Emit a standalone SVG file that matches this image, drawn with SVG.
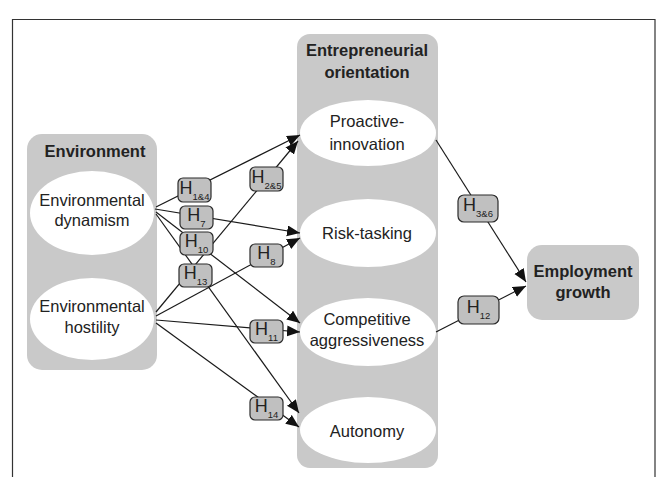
<svg xmlns="http://www.w3.org/2000/svg" width="660" height="477" viewBox="0 0 660 477">
<style>
.grp{fill:#c9c9c9;}
.ell{fill:#ffffff;}
.t{font-family:"Liberation Sans",Arial,sans-serif;font-size:16.5px;fill:#222;text-anchor:middle;}
.b{font-weight:bold;}
.hb{fill:#c0c0c0;stroke:#2a2a2a;stroke-width:1.2;}
.h{font-family:"Liberation Sans",Arial,sans-serif;font-size:18px;fill:#222;text-anchor:middle;}
.s{font-size:9.5px;}
.c line{stroke:#1a1a1a;stroke-width:1.2;marker-end:url(#ah);}
</style>
<defs>
<marker id="ah" markerUnits="userSpaceOnUse" markerWidth="14" markerHeight="12" refX="13" refY="5.5" orient="auto">
<path d="M0,0 L13,5.5 L0,11 z" fill="#111"/>
</marker>
</defs>
<rect width="660" height="477" fill="#fff"/>
<path d="M12.5,477 V19.5 H655 V477" fill="none" stroke="#333" stroke-width="1.2"/>

<g id="environment">
<rect class="grp" x="27" y="134" width="130" height="236" rx="15"/>
<text class="t b" x="95" y="157">Environment</text>
</g>
<g id="env-dynamism">
<ellipse class="ell" cx="92" cy="213" rx="62" ry="42"/>
<text class="t" x="92" y="206">Environmental</text>
<text class="t" x="92" y="226">dynamism</text>
</g>
<g id="env-hostility">
<ellipse class="ell" cx="92" cy="319" rx="62" ry="41"/>
<text class="t" x="92" y="312">Environmental</text>
<text class="t" x="92" y="333">hostility</text>
</g>

<g id="eo">
<rect class="grp" x="297" y="34" width="141" height="434" rx="13"/>
<text class="t b" x="367" y="56">Entrepreneurial</text>
<text class="t b" x="367" y="78">orientation</text>
</g>
<g id="proactive">
<ellipse class="ell" cx="368" cy="133" rx="68" ry="33"/>
<text class="t" x="367" y="127">Proactive-</text>
<text class="t" x="367" y="150">innovation</text>
</g>
<g id="risk">
<ellipse class="ell" cx="368" cy="233" rx="68" ry="34"/>
<text class="t" x="367" y="239">Risk-tasking</text>
</g>
<g id="competitive">
<ellipse class="ell" cx="368" cy="332" rx="68" ry="34"/>
<text class="t" x="367" y="325">Competitive</text>
<text class="t" x="367" y="346">aggressiveness</text>
</g>
<g id="autonomy">
<ellipse class="ell" cx="368" cy="430" rx="68" ry="33"/>
<text class="t" x="367" y="437">Autonomy</text>
</g>

<g id="employment">
<rect class="grp" x="527" y="245" width="112" height="75" rx="15"/>
<text class="t b" x="583" y="277">Employment</text>
<text class="t b" x="583" y="298">growth</text>
</g>

<g id="connectors" class="c">
<line x1="156" y1="207" x2="300" y2="135"/>
<line x1="155" y1="209" x2="300" y2="233"/>
<line x1="156" y1="212" x2="300" y2="323"/>
<line x1="156" y1="214" x2="299" y2="413"/>
<line x1="156" y1="312" x2="298" y2="141"/>
<line x1="156" y1="316" x2="300" y2="238"/>
<line x1="156" y1="320" x2="300" y2="332"/>
<line x1="156" y1="323" x2="299" y2="427"/>
<line x1="436" y1="140" x2="526" y2="282"/>
<line x1="436" y1="332" x2="526" y2="286"/>
</g>

<g id="labels">
<g id="h14"><rect class="hb" x="178" y="178" width="33" height="24" rx="5"/><text class="h" x="194.5" y="194">H<tspan class="s" dy="6">1&amp;4</tspan></text></g>
<g id="h25"><rect class="hb" x="250" y="167" width="33" height="24" rx="5"/><text class="h" x="266.5" y="183">H<tspan class="s" dy="6">2&amp;5</tspan></text></g>
<g id="h7"><rect class="hb" x="180" y="206" width="33" height="23" rx="5"/><text class="h" x="196.5" y="221">H<tspan class="s" dy="6">7</tspan></text></g>
<g id="h10"><rect class="hb" x="180" y="232" width="33" height="23" rx="5"/><text class="h" x="196.5" y="247">H<tspan class="s" dy="6">10</tspan></text></g>
<g id="h13"><rect class="hb" x="179" y="264" width="33" height="23" rx="5"/><text class="h" x="195.5" y="279">H<tspan class="s" dy="6">13</tspan></text></g>
<g id="h8"><rect class="hb" x="250" y="244" width="33" height="23" rx="5"/><text class="h" x="266.5" y="259">H<tspan class="s" dy="6">8</tspan></text></g>
<g id="h11"><rect class="hb" x="250" y="320" width="33" height="23" rx="5"/><text class="h" x="266.5" y="335">H<tspan class="s" dy="6">11</tspan></text></g>
<g id="h14b"><rect class="hb" x="250" y="397" width="33" height="23" rx="5"/><text class="h" x="266.5" y="412">H<tspan class="s" dy="6">14</tspan></text></g>
<g id="h36"><rect class="hb" x="458" y="195" width="40" height="27" rx="6"/><text class="h" x="478" y="211">H<tspan class="s" dy="6">3&amp;6</tspan></text></g>
<g id="h12"><rect class="hb" x="458" y="296" width="41" height="28" rx="6"/><text class="h" x="478.5" y="313">H<tspan class="s" dy="6">12</tspan></text></g>
</g>
</svg>
